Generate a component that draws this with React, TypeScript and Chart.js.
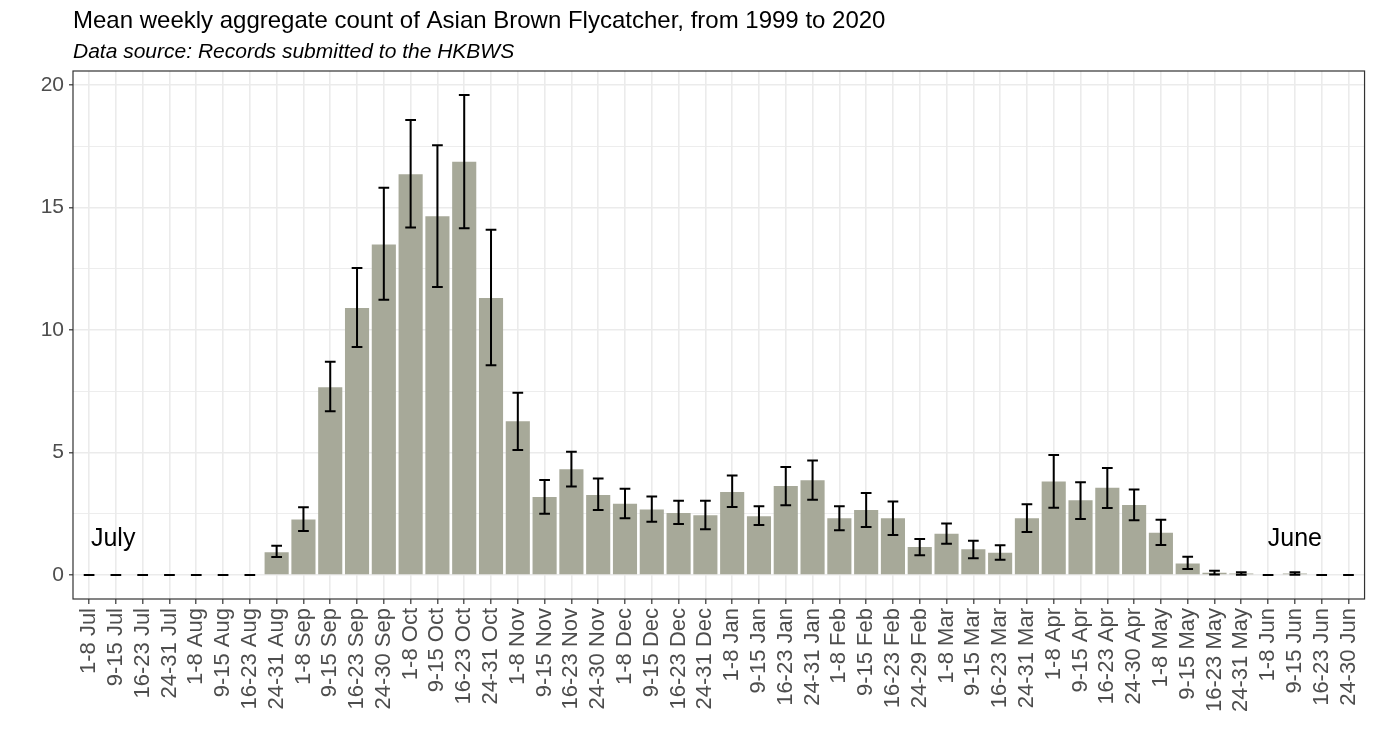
import React, { useEffect, useRef } from 'react';
import { Chart, registerables } from 'chart.js';

Chart.register(...registerables);

const chartTitle = 'Mean weekly aggregate count of Asian Brown Flycatcher, from 1999 to 2020';
const chartSubtitle = 'Data source: Records submitted to the HKBWS';

const weekLabels = [
  '1-8 Jul', '9-15 Jul', '16-23 Jul', '24-31 Jul',
  '1-8 Aug', '9-15 Aug', '16-23 Aug', '24-31 Aug',
  '1-8 Sep', '9-15 Sep', '16-23 Sep', '24-30 Sep',
  '1-8 Oct', '9-15 Oct', '16-23 Oct', '24-31 Oct',
  '1-8 Nov', '9-15 Nov', '16-23 Nov', '24-30 Nov',
  '1-8 Dec', '9-15 Dec', '16-23 Dec', '24-31 Dec',
  '1-8 Jan', '9-15 Jan', '16-23 Jan', '24-31 Jan',
  '1-8 Feb', '9-15 Feb', '16-23 Feb', '24-29 Feb',
  '1-8 Mar', '9-15 Mar', '16-23 Mar', '24-31 Mar',
  '1-8 Apr', '9-15 Apr', '16-23 Apr', '24-30 Apr',
  '1-8 May', '9-15 May', '16-23 May', '24-31 May',
  '1-8 Jun', '9-15 Jun', '16-23 Jun', '24-30 Jun',
];

const meanCounts = [
  0, 0, 0, 0,
  0, 0, 0, 0.93,
  2.26, 7.66, 10.9, 13.49,
  16.36, 14.64, 16.87, 11.31,
  6.27, 3.18, 4.32, 3.26,
  2.91, 2.67, 2.53, 2.44,
  3.39, 2.4, 3.63, 3.87,
  2.32, 2.65, 2.32, 1.14,
  1.68, 1.05, 0.91, 2.32,
  3.82, 3.05, 3.56, 2.86,
  1.72, 0.47, 0.09, 0.06,
  0, 0.06, 0, 0,
];

const lowerBounds = [
  0, 0, 0, 0,
  0, 0, 0, 0.73,
  1.8, 6.68, 9.31, 11.23,
  14.18, 11.75, 14.15, 8.56,
  5.1, 2.5, 3.61, 2.65,
  2.32, 2.17, 2.08, 1.87,
  2.77, 2.04, 2.85, 3.07,
  1.83, 1.96, 1.63, 0.81,
  1.28, 0.68, 0.62, 1.75,
  2.74, 2.29, 2.73, 2.23,
  1.22, 0.24, 0.02, 0.01,
  0, 0.01, 0, 0,
];

const upperBounds = [
  0, 0, 0, 0,
  0, 0, 0, 1.19,
  2.76, 8.7, 12.53, 15.8,
  18.57, 17.54, 19.59, 14.09,
  7.44, 3.88, 5.03, 3.94,
  3.52, 3.2, 3.03, 3.03,
  4.06, 2.81, 4.41, 4.67,
  2.81, 3.35, 3.0, 1.47,
  2.1, 1.4, 1.21, 2.89,
  4.9, 3.79, 4.37, 3.49,
  2.25, 0.74, 0.17, 0.11,
  0, 0.11, 0, 0,
];

const yTickValues = [0, 2.5, 5, 7.5, 10, 12.5, 15, 17.5, 20];
const monthNoteText = ['July', 'June'];
const monthNoteX = [0.9, 45];
const monthNoteY = [1.47, 1.47];

const FONT = "'Liberation Sans', Arial, Helvetica, sans-serif";
const BAR_COLOR = '#A7A999';
const GRID_COLOR = '#EBEBEB';
const AXIS_DARK = '#333333';
const TICK_TEXT = '#4D4D4D';

const overlayPlugin = {
  id: 'overlayPlugin',
  afterDatasetsDraw(chart: any) {
    const { ctx, chartArea } = chart;
    const xs = chart.scales.x;
    const ys = chart.scales.y;
    const step = xs.getPixelForValue(1) - xs.getPixelForValue(0);
    const half = step * 0.2;
    ctx.save();
    // error bars
    ctx.strokeStyle = '#000000';
    ctx.lineWidth = 2;
    ctx.lineCap = 'butt';
    meanCounts.forEach((_, i) => {
      const px = xs.getPixelForValue(i);
      const lo = ys.getPixelForValue(lowerBounds[i]);
      const hi = ys.getPixelForValue(upperBounds[i]);
      ctx.beginPath();
      ctx.moveTo(px, lo);
      ctx.lineTo(px, hi);
      ctx.moveTo(px - half, lo);
      ctx.lineTo(px + half, lo);
      ctx.moveTo(px - half, hi);
      ctx.lineTo(px + half, hi);
      ctx.stroke();
    });
    // month notes
    ctx.fillStyle = '#000000';
    ctx.font = `25px ${FONT}`;
    ctx.textAlign = 'center';
    ctx.textBaseline = 'middle';
    monthNoteText.forEach((t, i) => {
      ctx.fillText(t, xs.getPixelForValue(monthNoteX[i]), ys.getPixelForValue(monthNoteY[i]));
    });
    // panel border
    ctx.strokeStyle = AXIS_DARK;
    ctx.lineWidth = 1.2;
    ctx.strokeRect(
      chartArea.left,
      chartArea.top,
      chartArea.right - chartArea.left,
      chartArea.bottom - chartArea.top
    );
    // titles
    ctx.textAlign = 'left';
    ctx.textBaseline = 'alphabetic';
    ctx.fillStyle = '#000000';
    ctx.font = `24px ${FONT}`;
    ctx.fillText(chartTitle, chartArea.left, 28);
    ctx.font = `italic 21px ${FONT}`;
    ctx.fillText(chartSubtitle, chartArea.left, 58);
    ctx.restore();
  },
};

export default function App() {
  const canvasRef = useRef<HTMLCanvasElement | null>(null);

  useEffect(() => {
    document.body.style.margin = '0';
    const canvas = canvasRef.current;
    if (!canvas) return;
    const chart = new Chart(canvas, {
      type: 'bar',
      data: {
        datasets: [
          {
            label: 'Mean count',
            data: meanCounts.map((v, i) => ({ x: i, y: v })),
            backgroundColor: BAR_COLOR,
            borderWidth: 0,
            barPercentage: 0.9,
            categoryPercentage: 1.0,
          },
        ],
      },
      options: {
        animation: false,
        responsive: false,
        devicePixelRatio: 1,
        layout: { padding: { top: 71, right: 10, left: 0, bottom: 0 } },
        plugins: {
          legend: { display: false },
          title: { display: false },
          tooltip: { enabled: false },
        },
        scales: {
          x: {
            type: 'linear',
            min: -0.6,
            max: weekLabels.length - 1 + 0.6,
            offset: false,
            afterBuildTicks: (axis: any) => {
              axis.ticks = weekLabels.map((_, i) => ({ value: i }));
            },
            afterFit: (axis: any) => {
              axis.height = 153;
            },
            grid: {
              offset: false,
              color: GRID_COLOR,
              lineWidth: 1.6,
              drawTicks: true,
              tickLength: 5,
              tickColor: AXIS_DARK,
              tickWidth: 1.2,
            },
            border: { display: false },
            ticks: {
              autoSkip: false,
              maxRotation: 90,
              minRotation: 90,
              padding: 4,
              color: TICK_TEXT,
              font: { family: FONT, size: 22 },
              callback: (v: any) => weekLabels[Math.round(Number(v))] ?? '',
            },
          },
          y: {
            type: 'linear',
            min: -0.98,
            max: 20.57,
            afterBuildTicks: (axis: any) => {
              axis.ticks = yTickValues.map((v) => ({ value: v }));
            },
            afterFit: (axis: any) => {
              axis.width = 73;
            },
            grid: {
              color: GRID_COLOR,
              lineWidth: (c: any) => (c.tick && c.tick.value % 5 === 0 ? 1.6 : 0.9),
              tickLength: 4,
              tickColor: (c: any) => (c.tick && c.tick.value % 5 === 0 ? AXIS_DARK : 'rgba(0,0,0,0)'),
              tickWidth: 1.2,
            },
            border: { display: false },
            ticks: {
              padding: 5,
              color: TICK_TEXT,
              font: { family: FONT, size: 21 },
              callback: (v: any) => (Number(v) % 5 === 0 ? String(v) : ''),
            },
          },
        },
      },
      plugins: [overlayPlugin],
    } as any);
    return () => chart.destroy();
  }, []);

  return (
    <div style={{ position: 'absolute', left: 0, top: 0, width: 1379, height: 752, background: '#ffffff' }}>
      <canvas ref={canvasRef} width={1379} height={752} style={{ display: 'block' }} />
    </div>
  );
}
